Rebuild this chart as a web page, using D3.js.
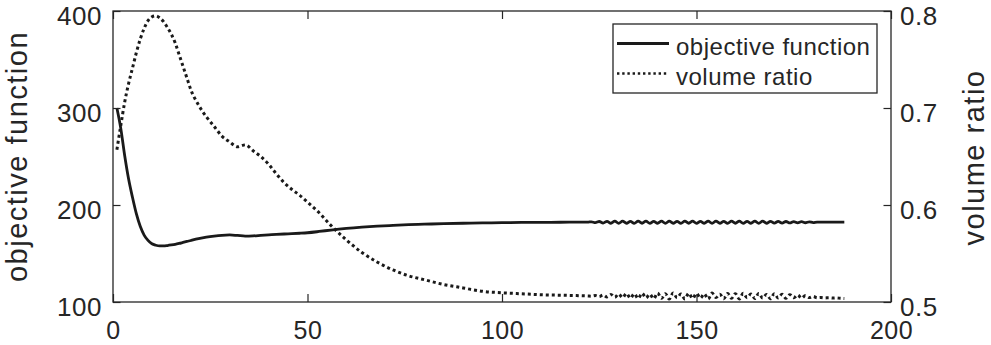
<!DOCTYPE html>
<html>
<head>
<meta charset="utf-8">
<script src="https://cdn.jsdelivr.net/npm/d3@7"></script>
<style>
    body { margin: 0; background: #fff; }
    text { font-family: "Liberation Sans", Arial, Helvetica, sans-serif; fill: #262626; }
</style>
</head>
<body>
<div id="chart-area"></div>
<script>
// Data (iteration, objective, volume ratio)
var iterations = [1,2,3,4,5,6,7,8,9,10,11,12,13,14,15,16,17,18,19,20,
    22,24,26,28,30,32,34,36,38,40,42,44,46,48,50,53,56,60,64,68,72,76,80,85,90,95,100,105,110,115,120,
    122,123,124,125,126,127,128,129,130,131,132,133,134,135,136,137,138,139,140,141,
    142,143,144,145,146,147,148,149,150,151,152,153,154,155,156,157,158,159,160,161,
    162,163,164,165,166,167,168,169,170,171,172,173,174,175,176,177,178,179,180,181,
    182,183,184,185,186,187,188];

var objective = [300,279,251,227,208,191,178,169,163.5,160,158.5,157.8,157.8,158.2,158.8,159.5,160.4,161.4,162.4,163.4,
    165.3,166.8,167.9,168.7,169.1,168.6,168.0,168.2,168.7,169.2,169.7,170.1,170.5,170.9,171.4,172.7,174.2,175.9,177.2,178.2,
    179.0,179.7,180.2,180.8,181.2,181.5,181.8,182.0,182.1,182.2,182.3,
    182.3,182.7,181.8,183.0,181.4,183.2,181.2,183.3,181.1,183.3,181.2,183.2,181.1,183.3,181.2,183.3,181.1,183.2,181.2,183.3,
    181.1,183.3,181.2,183.2,181.1,183.3,181.2,183.3,181.1,183.2,181.2,183.3,181.1,183.3,181.2,183.2,181.1,183.3,181.2,183.3,
    181.1,183.2,181.2,183.3,181.1,183.3,181.2,183.2,181.3,183.1,181.4,183.0,181.5,182.9,181.6,182.8,181.7,182.7,181.9,182.4,
    182.3,182.3,182.3,182.3,182.3,182.3,182.3];

var volume = [0.657,0.682,0.706,0.725,0.741,0.757,0.771,0.782,0.790,0.794,0.795,0.793,0.789,0.783,0.776,0.767,0.755,0.743,0.731,0.719,
    0.703,0.691,0.681,0.671,0.665,0.660,0.662,0.656,0.650,0.642,0.632,0.623,0.616,0.610,0.603,0.592,0.579,0.564,0.551,0.541,
    0.533,0.527,0.523,0.518,0.5145,0.511,0.5095,0.5085,0.5075,0.507,0.5065,
    0.5062,0.5060,0.5066,0.5055,0.5072,0.5052,0.5078,0.5048,0.5082,0.5045,0.5088,0.5040,0.5085,0.5036,0.5090,0.5042,0.5080,0.5034,0.5092,0.5038,
    0.5086,0.5030,0.5094,0.5044,0.5082,0.5032,0.5090,0.5036,0.5088,0.5040,0.5084,0.5030,0.5092,0.5046,0.5080,0.5034,0.5088,0.5038,0.5086,0.5032,
    0.5090,0.5044,0.5082,0.5036,0.5088,0.5040,0.5078,0.5034,0.5086,0.5042,0.5080,0.5038,0.5076,0.5044,0.5072,0.5040,0.5066,0.5046,0.5058,0.5044,
    0.5046,0.5042,0.5044,0.5040,0.5042,0.5038,0.5036];

var xTicks = [0, 50, 100, 150, 200];
var yLeftTicks = [100, 200, 300, 400];
var yRightTicks = [0.5, 0.6, 0.7, 0.8];
var seriesNames = ["objective function", "volume ratio"];

var margin = { left: 113, right: 100, top: 11, bottom: 43 };
var width = 991 - margin.left - margin.right,
    height = 345 - margin.top - margin.bottom;
var ink = "#262626";

var svg = d3.select("#chart-area")
    .append("svg")
        .attr("width", width + margin.left + margin.right)
        .attr("height", height + margin.top + margin.bottom);
var g = svg.append("g")
    .attr("transform", "translate(" + margin.left + "," + margin.top + ")");

// Scales
var x = d3.scaleLinear().domain([0, 200]).range([0, width]);
var yL = d3.scaleLinear().domain([100, 400]).range([height, 0]);
var yR = d3.scaleLinear().domain([0.5, 0.8]).range([height, 0]);

var rows = iterations.map(function(it, i) {
    return { it: it, obj: objective[i], vol: volume[i] };
});

g.append("clipPath").attr("id", "clip")
    .append("rect").attr("width", width).attr("height", height);

var objLine = d3.line()
    .x(function(d) { return x(d.it); })
    .y(function(d) { return yL(d.obj); })
    .curve(d3.curveMonotoneX);
var volLine = d3.line()
    .x(function(d) { return x(d.it); })
    .y(function(d) { return yR(d.vol); })
    .curve(d3.curveMonotoneX);

g.append("path")
    .datum(rows)
    .attr("clip-path", "url(#clip)")
    .attr("fill", "none")
    .attr("stroke", "#1a1a1a")
    .attr("stroke-width", 2.8)
    .attr("d", objLine);

g.append("path")
    .datum(rows)
    .attr("clip-path", "url(#clip)")
    .attr("fill", "none")
    .attr("stroke", "#1a1a1a")
    .attr("stroke-width", 3)
    .attr("stroke-dasharray", "3,3")
    .attr("d", volLine);

// Axes (ticks pointing inward)
function styleAxis(sel, fontSize) {
    sel.select(".domain").remove();
    sel.selectAll(".tick line").attr("stroke", ink).attr("stroke-width", 1.2);
    sel.selectAll(".tick text")
        .attr("fill", ink)
        .style("font-size", fontSize + "px")
        .style("letter-spacing", "0.5px")
        .style("font-family", '"Liberation Sans", Arial, sans-serif');
}

var xAxisCall = d3.axisBottom(x).tickValues(xTicks)
    .tickSizeInner(-8).tickSizeOuter(0).tickPadding(19);
g.append("g").attr("transform", "translate(0," + height + ")")
    .call(xAxisCall).call(styleAxis, 25);

var xTopCall = d3.axisTop(x).tickValues(xTicks).tickFormat("")
    .tickSizeInner(-8).tickSizeOuter(0);
g.append("g").call(xTopCall).call(styleAxis, 26);

var yLeftCall = d3.axisLeft(yL).tickValues(yLeftTicks)
    .tickSizeInner(-7.5).tickSizeOuter(0).tickPadding(11);
g.append("g").call(yLeftCall).call(styleAxis, 26)
    .selectAll(".tick text").attr("dy", "0.5em");

var yRightCall = d3.axisRight(yR).tickValues(yRightTicks)
    .tickFormat(d3.format(".1f"))
    .tickSizeInner(-7.5).tickSizeOuter(0).tickPadding(9);
g.append("g").attr("transform", "translate(" + width + ",0)")
    .call(yRightCall).call(styleAxis, 26)
    .selectAll(".tick text").attr("dy", "0.5em");

// Box
g.append("rect")
    .attr("width", width).attr("height", height)
    .attr("fill", "none")
    .attr("stroke", ink)
    .attr("stroke-width", 1.3);

// Axis labels
svg.append("text")
    .attr("transform", "translate(27," + (margin.top + height / 2) + ") rotate(-90)")
    .attr("text-anchor", "middle")
    .style("font-size", "29px")
    .style("letter-spacing", "1.5px")
    .text("objective function");
svg.append("text")
    .attr("transform", "translate(984," + (margin.top + height / 2 + 1) + ") rotate(-90)")
    .attr("text-anchor", "middle")
    .style("font-size", "29px")
    .style("letter-spacing", "1.5px")
    .text("volume ratio");

// Legend
var legend = g.append("g")
    .attr("transform", "translate(" + (width - 278) + ",13)");
legend.append("rect")
    .attr("width", 264).attr("height", 69)
    .attr("fill", "#fff")
    .attr("stroke", ink)
    .attr("stroke-width", 1.3);

seriesNames.forEach(function(name, i) {
    var row = legend.append("g")
        .attr("transform", "translate(0," + (i * 30) + ")");
    row.append("line")
        .attr("x1", 4).attr("x2", 56)
        .attr("y1", 19.5).attr("y2", 19.5)
        .attr("stroke", "#1a1a1a")
        .attr("stroke-width", i === 0 ? 2.8 : 2.4)
        .attr("stroke-dasharray", i === 0 ? null : "2.4,2.8");
    row.append("text")
        .attr("x", 63).attr("y", 31)
        .style("font-size", "24px")
        .style("letter-spacing", "0.5px")
        .text(name);
});
</script>
</body>
</html>
